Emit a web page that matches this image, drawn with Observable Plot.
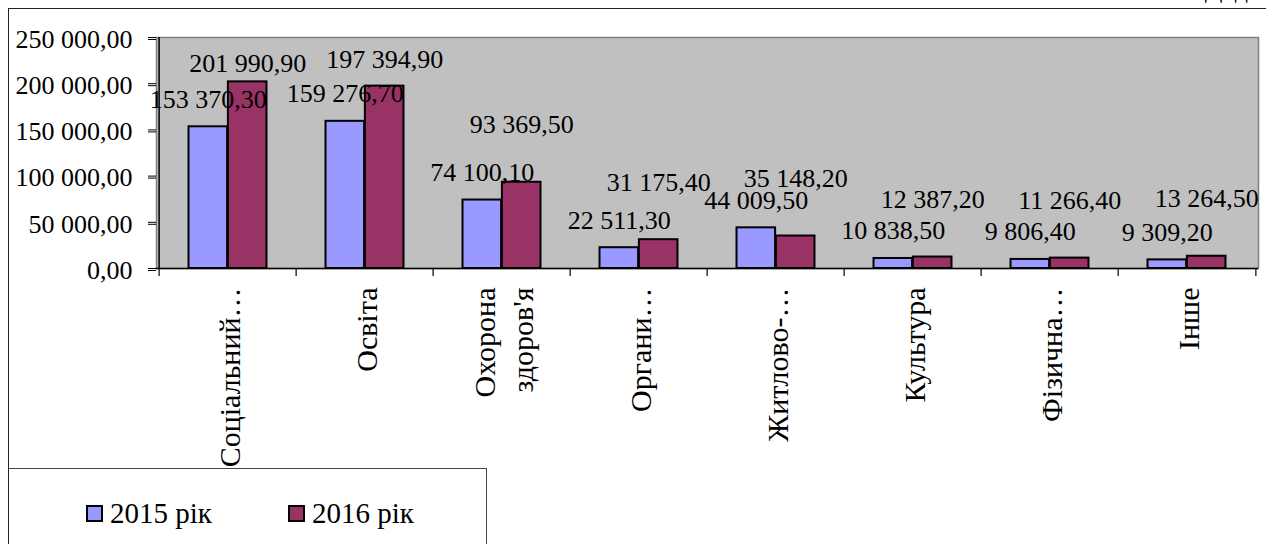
<!DOCTYPE html>
<html><head><meta charset="utf-8">
<script src="https://cdn.jsdelivr.net/npm/d3@7"></script>
<script src="https://cdn.jsdelivr.net/npm/@observablehq/plot@0.6"></script>
<style>
html,body{margin:0;padding:0;background:#fff;}
#wrap{position:relative;width:1266px;height:544px;overflow:hidden;font-family:"Liberation Serif","DejaVu Serif",serif;color:#000;}
#chart{position:absolute;left:0;top:0;}
.frameTop{position:absolute;left:9px;top:8px;width:1260px;height:0;border-top:1.5px solid #222;}
.frameLeft{position:absolute;left:8px;top:8px;width:0;height:540px;border-left:1.5px solid #222;}
#corner{position:absolute;right:-8px;top:-23px;font-size:26px;line-height:26px;white-space:nowrap;}
#legend{position:absolute;left:9px;top:468px;width:477px;height:90px;border-top:1.5px solid #444;border-right:1.5px solid #444;background:#fff;}
.item{position:absolute;top:24px;height:40px;display:flex;align-items:center;font-size:29px;white-space:nowrap;}
.sw{display:inline-block;width:13px;height:13px;border:2px solid #000;margin-right:7px;}
svg text{font-family:"Liberation Serif","DejaVu Serif",serif;}
</style></head><body><div id="wrap">
<div id="chart"></div>
<div class="frameTop"></div><div class="frameLeft"></div>
<div id="corner">Дод. 1</div>
<div id="legend"></div>
</div>
<script>
const categories = ["Соціальний…", "Освіта", "Охорона\nздоров'я", "Органи…", "Житлово-…", "Культура", "Фізична…", "Інше"];
const series = ["2015 рік", "2016 рік"];
const values2015 = [153370.3, 159276.7, 74100.1, 22511.3, 44009.5, 10838.5, 9806.4, 9309.2];
const values2016 = [201990.9, 197394.9, 93369.5, 31175.4, 35148.2, 12387.2, 11266.4, 13264.5];
const yTicks = [0, 50000, 100000, 150000, 200000, 250000];
const colors = ["#9999FF", "#993366"];

const locale = d3.formatLocale({decimal: ",", thousands: "\u00a0", grouping: [3], currency: ["", ""]});
const fmt = locale.format(",.2f");

const W = 1266, H = 544, mL = 156, mR = 8, mT = 37, mB = 276;
const bw = (W - mL - mR) / categories.length;
const bar = bw / 3.5;

const d15 = categories.map((c, i) => ({cat: c, s: series[0], v: values2015[i], i}));
const d16 = categories.map((c, i) => ({cat: c, s: series[1], v: values2016[i], i}));
const font = "Liberation Serif, DejaVu Serif, serif";

const chart = Plot.plot({
  width: W, height: H,
  marginLeft: mL, marginRight: mR, marginTop: mT, marginBottom: mB,
  style: {fontFamily: font, background: "transparent", overflow: "visible", color: "#000"},
  x: {domain: categories, padding: 0, axis: null},
  y: {domain: [0, 250000], axis: null},
  color: {domain: series, range: colors},
  marks: [
    Plot.frame({fill: "#C0C0C0", stroke: "#808080", strokeWidth: 1.5}),
    Plot.barY(d15, {x: "cat", y: "v", fill: "s", stroke: "#000", strokeWidth: 2, insetLeft: 0.75 * bar, insetRight: 1.75 * bar}),
    Plot.barY(d16, {x: "cat", y: "v", fill: "s", stroke: "#000", strokeWidth: 2, insetLeft: 1.75 * bar, insetRight: 0.75 * bar}),
    Plot.ruleY([0], {stroke: "#000", strokeWidth: 1.5}),
    Plot.ruleX([categories[0]], {x: d => d, dx: -bw / 2, y1: 250000, y2: 0, stroke: "#000", strokeWidth: 1.5}),
    Plot.ruleX(categories, {x: d => d, dx: -bw / 2, y1: 0, y2: 0, insetBottom: -8, stroke: "#000", strokeWidth: 1.2}),
    Plot.ruleX([categories[categories.length - 1]], {x: d => d, dx: bw / 2, y1: 0, y2: 0, insetBottom: -8, stroke: "#000", strokeWidth: 1.2}),
    Plot.axisY({ticks: yTicks, tickSize: 8, stroke: "#000", text: null, label: null}),
    Plot.axisY({ticks: yTicks, tickFormat: fmt, tickSize: 8, tickPadding: 16, fontSize: 26, dy: 2, tick: null, label: null}),
    Plot.axisX({anchor: "bottom", tickSize: 0, tickRotate: -90, tickPadding: 19, fontSize: 30, lineHeight: 1.25, label: null}),
    Plot.text(d15, {x: "cat", y: "v", text: d => fmt(d.v), dx: -bar / 2, dy: -19, lineAnchor: "bottom", fontSize: 26, fill: "#000"}),
    Plot.text(d16.filter(d => d.i === 0), {x: "cat", y: "v", text: d => fmt(d.v), dx: bar / 2, dy: -10, lineAnchor: "bottom", fontSize: 26, fill: "#000"}),
    Plot.text(d16.filter(d => d.i === 1), {x: "cat", y: "v", text: d => fmt(d.v), dx: bar / 2, dy: -18, lineAnchor: "bottom", fontSize: 26, fill: "#000"}),
    Plot.text(d16.filter(d => d.i > 1), {x: "cat", y: "v", text: d => fmt(d.v), dx: bar / 2, dy: -49, lineAnchor: "bottom", fontSize: 26, fill: "#000"})
  ]
});
document.getElementById("chart").appendChild(chart);

const legend = document.getElementById("legend");
const lx = [77, 279];
series.forEach((s, k) => {
  const it = document.createElement("div");
  it.className = "item";
  it.style.left = lx[k] + "px";
  const sw = document.createElement("span");
  sw.className = "sw";
  sw.style.background = colors[k];
  it.appendChild(sw);
  it.appendChild(document.createTextNode(s));
  legend.appendChild(it);
});
</script>
</body></html>
